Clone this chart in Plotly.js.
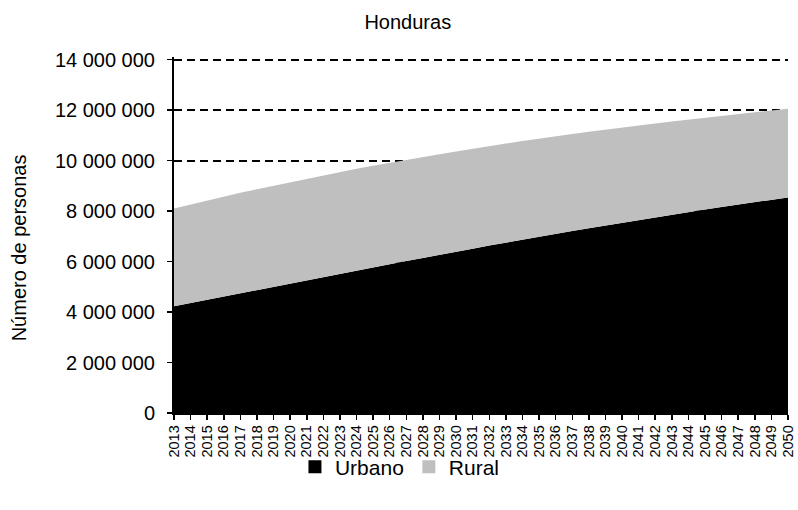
<!DOCTYPE html>
<html>
<head>
<meta charset="utf-8">
<script src="https://cdn.plot.ly/plotly-3.0.1.min.js"></script>
<style>html,body{margin:0;padding:0;background:#fff;}</style>
</head>
<body>
<div id="chart" style="width:798px;height:510px;"></div>
<script>
const years = ["2013","2014","2015","2016","2017","2018","2019","2020","2021","2022","2023","2024","2025","2026","2027","2028","2029","2030","2031","2032","2033","2034","2035","2036","2037","2038","2039","2040","2041","2042","2043","2044","2045","2046","2047","2048","2049","2050"];
const urbano = [4230000,4360000,4490000,4620000,4750000,4880000,5010000,5140000,5270000,5390000,5520000,5650000,5770000,5900000,6020000,6140000,6270000,6390000,6510000,6630000,6750000,6870000,6980000,7100000,7210000,7320000,7430000,7540000,7650000,7760000,7860000,7960000,8060000,8160000,8260000,8350000,8450000,8540000];
const rural = [3870000,3900000,3930000,3950000,3970000,3980000,3990000,4000000,4010000,4020000,4020000,4020000,4020000,4010000,4010000,4000000,3980000,3970000,3960000,3940000,3920000,3900000,3890000,3860000,3840000,3820000,3800000,3770000,3740000,3710000,3690000,3660000,3630000,3600000,3570000,3550000,3520000,3510000];
const yTicks = [0,2000000,4000000,6000000,8000000,10000000,12000000,14000000];
const yTitle = "Número de personas";

const font = "Liberation Sans, Arial, sans-serif";
const traces = [
  {x: years, y: urbano, name: "Urbano", type: "scatter", mode: "lines", stackgroup: "one", showlegend: false,
   line: {width: 0, color: "#000000"}, fillcolor: "#000000"},
  {x: years, y: rural, name: "Rural", type: "scatter", mode: "lines", stackgroup: "one", showlegend: false,
   line: {width: 0, color: "#bfbfbf"}, fillcolor: "#bfbfbf"},
  {x: [null], y: [null], name: "Urbano", type: "scatter", mode: "markers", showlegend: true,
   marker: {symbol: "square", size: 13, color: "#000000"}},
  {x: [null], y: [null], name: "Rural", type: "scatter", mode: "markers", showlegend: true,
   marker: {symbol: "square", size: 13, color: "#bfbfbf"}}
];
const layout = {
  width: 798, height: 510,
  margin: {l: 174, r: 10, t: 56.5, b: 97},
  paper_bgcolor: "#ffffff", plot_bgcolor: "#ffffff",
  separators: ", ",
  font: {family: font, color: "#000000", size: 18},
  title: {text: "Honduras", font: {family: font, size: 20, color: "#000"}, x: 0.511, xanchor: "center", xref: "container", y: 0.957, yanchor: "middle", yref: "container"},
  showlegend: true,
  legend: {orientation: "h", x: 0.368, xanchor: "center", y: -0.152, yanchor: "middle", bgcolor: "rgba(0,0,0,0)",
           font: {family: font, size: 21}, traceorder: "normal", itemwidth: 30, tracegroupgap: 0},
  annotations: [{text: yTitle, textangle: -90, xref: "paper", yref: "paper", x: -0.251, y: 0.465,
                 xanchor: "center", yanchor: "middle", showarrow: false, font: {family: font, size: 20}}],
  xaxis: {type: "category", range: [0, 37], tickmode: "linear", dtick: 1, tick0: 0, showgrid: false, showline: true, linecolor: "#000", linewidth: 1.5,
          ticks: "outside", ticklen: 5, tickcolor: "#000", tickwidth: 1.5, tickangle: -90,
          tickfont: {family: font, size: 14.5}, zeroline: false, fixedrange: true},
  yaxis: {range: [0, 14100000], tickvals: yTicks, tickformat: ",d", showgrid: true, gridcolor: "#000", gridwidth: 2, griddash: "8px,5px",
          showline: true, linecolor: "#000", linewidth: 2, ticks: "outside", ticklen: 5, tickcolor: "#000", tickwidth: 1.5,
          ticklabelstandoff: 8,
          tickfont: {family: font, size: 20}, zeroline: false}
};
Plotly.newPlot("chart", traces, layout, {displayModeBar: false, staticPlot: true});
</script>
</body>
</html>
